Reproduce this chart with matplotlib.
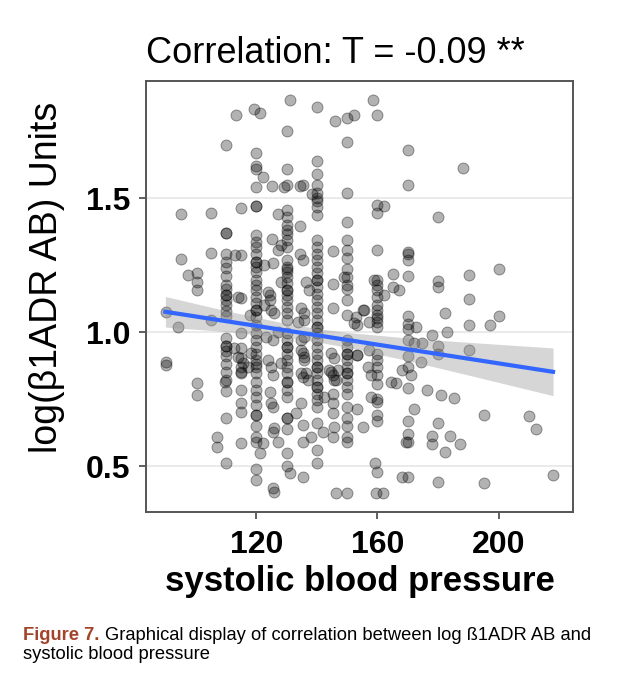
import numpy as np
import matplotlib
matplotlib.use("Agg")
import matplotlib.pyplot as plt

plt.rcParams['font.family'] = ['Liberation Sans', 'DejaVu Sans']

# blood pressure values that occur often, and the readings found at each of them
col_x = [110, 120, 130, 140, 150, 160, 170, 180]
col110 = [1.70, 1.37, 1.37, 1.29, 1.26, 1.24, 1.21, 1.175, 1.16, 1.14, 1.14, 1.12, 1.10, 1.08, 1.06,
          0.98, 0.95, 0.95, 0.93, 0.91, 0.88, 0.85, 0.82, 0.78, 0.68, 0.51]
col120 = [1.67, 1.62, 1.61, 1.54, 1.47, 1.47, 1.362, 1.337, 1.318, 1.293, 1.262, 1.262, 1.244, 1.225,
          1.194, 1.175, 1.157, 1.132, 1.107, 1.082, 1.082, 1.057, 1.026, 0.995, 0.970, 0.945, 0.920,
          0.895, 0.880, 0.871, 0.846, 0.815, 0.783, 0.759, 0.73, 0.69, 0.69, 0.65, 0.61, 0.59, 0.49,
          0.45]
col130 = [1.75, 1.61, 1.55, 1.455, 1.430, 1.399, 1.381, 1.368, 1.343, 1.318, 1.269, 1.244, 1.235,
          1.225, 1.206, 1.182, 1.157, 1.157, 1.138, 1.119, 1.095, 1.070, 1.045, 0.995, 0.970, 0.945,
          0.945, 0.920, 0.895, 0.871, 0.846, 0.815, 0.815, 0.783, 0.759, 0.68, 0.68, 0.64, 0.55, 0.50]
col140 = [1.84, 1.64, 1.59, 1.55, 1.52, 1.50, 1.49, 1.468, 1.437, 1.343, 1.318, 1.293, 1.269, 1.244,
          1.219, 1.194, 1.194, 1.169, 1.144, 1.119, 1.095, 1.070, 1.045, 1.020, 1.020, 0.995, 0.970,
          0.945, 0.920, 0.895, 0.871, 0.871, 0.846, 0.821, 0.796, 0.796, 0.771, 0.746, 0.72, 0.66,
          0.56, 0.51]
col150 = [1.80, 1.71, 1.52, 1.412, 1.343, 1.306, 1.275, 1.237, 1.206, 1.175, 1.16, 1.119, 1.063,
          0.970, 0.945, 0.920, 0.920, 0.895, 0.871, 0.846, 0.846, 0.821, 0.796, 0.771, 0.72, 0.68,
          0.65, 0.61, 0.59, 0.40]
col160 = [1.81, 1.474, 1.443, 1.306, 1.194, 1.175, 1.157, 1.13, 1.10, 1.082, 1.063, 1.051, 1.038,
          1.020, 0.920, 0.895, 0.871, 0.839, 0.808, 0.75, 0.74, 0.69, 0.67, 0.48]
col170 = [1.68, 1.55, 1.30, 1.29, 1.27, 1.21, 1.06, 1.03, 1.01, 0.97, 0.91, 0.87, 0.79, 0.67, 0.62,
          0.59, 0.46]
col180 = [1.43, 1.19, 1.17, 0.95, 0.92, 0.66, 0.44]

# the remaining readings
other_x = [131.2, 119.1, 121.3, 113.3, 146.1, 152.3, 122.2, 125.2, 129.3, 135.3, 134.6, 138.3,
           95.1, 105.2, 115.1, 127.1, 134.3, 95.1, 105.2, 112.9, 115.1, 125.2, 125.5, 122.5,
           127.1, 128.2, 134.3, 135.6, 145.2, 145.2, 136.4, 128.2, 97.5, 100.3, 100.3, 100.3,
           123.8, 149.1,
           90.1, 90.1, 90.1, 94.2, 100.3, 100.3, 105.2, 107.2, 107.2,
           115.1, 115.1, 115.1, 115.1, 115.1, 115.1, 115.1, 115.1, 115.1, 115.1, 114.0, 112.7,
           117.8, 118.4, 117.3, 123.3, 122.7, 124.4, 124.9, 126.0, 123.8, 125.5, 124.4, 124.9,
           125.5, 126.0, 125.5, 127.1, 121.1, 122.2, 125.5, 126.0, 131.0, 135.4, 133.2,
           133.7, 134.8, 135.9, 135.9, 135.3, 135.9, 136.5, 135.3, 134.8, 135.3, 138.1, 135.3,
           145.2, 144.7, 145.8, 144.1, 146.9, 145.2, 145.8, 142.5, 145.2, 145.2, 145.2, 142.0,
           145.8, 145.2, 146.3, 152.3, 152.9,
           162.2, 155.1, 157.3, 153.4, 153.4, 157.0, 158.0, 157.8, 153.4, 155.1,
           172.6, 172.1, 168.2, 171.0, 166.1, 174.3, 174.8, 178.1, 183.1, 182.3, 190.4, 190.4,
           197.3, 200.3, 190.4, 176.3, 180.9, 185.2, 172.1, 195.1, 210.1, 212.3, 169.3,
           178.1, 178.1, 184.1, 187.4, 182.3, 168.2, 195.1, 218.1, 159.5, 161.7, 159.1,
           158.4, 188.2, 162.2, 165.3, 165.3, 167.1, 190.4, 200.3,
           127.1, 125.5, 134.8, 134.8, 135.9, 153.4, 157.3, 114.0, 115.6, 124.9, 128.2, 134.8,
           137.0, 144.7, 146.3, 164.4, 137.5, 124.4, 158.9, 155.6, 135.9, 109.6, 115.1]
other_y = [1.868, 1.832, 1.819, 1.812, 1.788, 1.812, 1.577, 1.544, 1.542, 1.548, 1.544, 1.515,
           1.440, 1.446, 1.465, 1.440, 1.396, 1.272, 1.297, 1.287, 1.287, 1.349, 1.258, 1.250,
           1.306, 1.324, 1.293, 1.268, 1.303, 1.179, 1.188, 1.188, 1.212, 1.219, 1.188, 1.156,
           1.150, 1.206,
           1.076, 0.890, 0.877, 1.018, 0.809, 0.765, 1.045, 0.610, 0.573,
           1.126, 0.995, 0.939, 0.902, 0.852, 0.784, 0.734, 0.703, 0.585, 0.870, 1.132, 0.939,
           1.064, 0.921, 0.871, 0.983, 1.101, 1.138, 1.082, 1.070, 0.896, 0.840, 0.778, 0.734,
           0.722, 0.641, 0.628, 0.591, 0.548, 0.585, 0.417, 0.404, 0.475, 0.460, 0.697,
           1.039, 1.089, 1.045, 0.983, 0.921, 0.896, 0.846, 0.834, 0.734, 0.653, 0.610, 0.591,
           1.089, 0.921, 0.902, 0.858, 0.858, 0.840, 0.821, 0.759, 0.771, 0.734, 0.697, 0.628,
           0.647, 0.610, 0.398, 1.033, 1.057,
           1.138, 1.082, 1.039, 1.026, 0.914, 0.870, 0.840, 0.759, 0.715, 0.647,
           1.020, 0.958, 0.858, 0.840, 0.809, 0.890, 0.958, 0.989, 1.001, 1.072, 1.122, 1.026,
           1.026, 1.060, 0.933, 0.784, 0.765, 0.753, 0.715, 0.691, 0.687, 0.637, 0.591,
           0.612, 0.582, 0.612, 0.581, 0.554, 0.460, 0.436, 0.467, 0.401, 0.401, 0.510,
           1.868, 1.613, 1.470, 1.216, 1.169, 1.156, 1.212, 1.237,
           1.000, 0.970, 0.970, 0.933, 0.908, 0.914, 0.933, 0.908, 0.883, 0.871, 0.883, 0.846,
           0.821, 0.852, 0.821, 0.815, 1.157, 1.120, 1.194, 1.082, 1.070, 0.815, 0.846]

# linear fit and its confidence band
fit_x = [90, 218]
fit_y = [1.076, 0.852]
band_x = [90, 110, 130, 140, 150, 170, 190, 218]
band_lo = [1.019, 1.002, 0.980, 0.964, 0.943, 0.894, 0.840, 0.763]
band_hi = [1.133, 1.080, 1.032, 1.014, 0.999, 0.978, 0.962, 0.941]

columns = [col110, col120, col130, col140, col150, col160, col170, col180]
xs = list(other_x)
ys = list(other_y)
for cx, vals in zip(col_x, columns):
    xs += [cx] * len(vals)
    ys += vals

fig = plt.figure(figsize=(6.44, 6.93), dpi=100)
ax = fig.add_axes([0.2267, 0.2616, 0.6631, 0.6215])

ax.scatter(xs, ys, s=62, facecolor=(0, 0, 0, 0.3), edgecolor=(0, 0, 0, 0.38),
           linewidths=0.7, zorder=3)
ax.fill_between(band_x, band_lo, band_hi, color='#999999', alpha=0.4, linewidth=0, zorder=4)
ax.plot(fit_x, fit_y, color='#3366FF', linewidth=3, zorder=5)

ax.set_xlim(83.6, 224.6)
ax.set_ylim(0.33, 1.937)
ax.set_xticks([120, 160, 200])
ax.set_yticks([0.5, 1.0, 1.5])
ax.set_yticklabels(['0.5', '1.0', '1.5'])
ax.grid(axis='y', color='#e6e6e6', linewidth=1.2, zorder=0)
ax.set_axisbelow(True)
for sp in ax.spines.values():
    sp.set_color('#555555')
    sp.set_linewidth(1.4)
ax.tick_params(direction='out', length=5, width=1.2, color='#444444', labelsize=23,
               labelcolor='black')
ax.tick_params(axis='x', pad=8)
ax.tick_params(axis='y', pad=6)
for lab in ax.get_xticklabels() + ax.get_yticklabels():
    lab.set_fontweight('bold')

ax.set_xlabel('systolic blood pressure', fontsize=25, fontweight='bold', labelpad=4)
ax.set_ylabel('log(β1ADR AB) Units', fontsize=27)
ax.yaxis.set_label_coords(-0.19, 0.543)
ax.set_title('Correlation: T = -0.09 **', fontsize=26, pad=13, loc='left')

cap_y1 = 0.076
cap_y2 = 0.049
t1 = fig.text(0.036, cap_y1, 'Figure 7.', fontsize=13.2, fontweight='bold', color='#a3442a')
fig.canvas.draw()
bb = t1.get_window_extent(fig.canvas.get_renderer())
x_next = (bb.x1 + 5) / fig.bbox.width
fig.text(x_next, cap_y1, 'Graphical display of correlation between log ß1ADR AB and',
         fontsize=13.2, color='black')
fig.text(0.036, cap_y2, 'systolic blood pressure', fontsize=13.2, color='black')

fig.savefig('out.png', dpi=100)
